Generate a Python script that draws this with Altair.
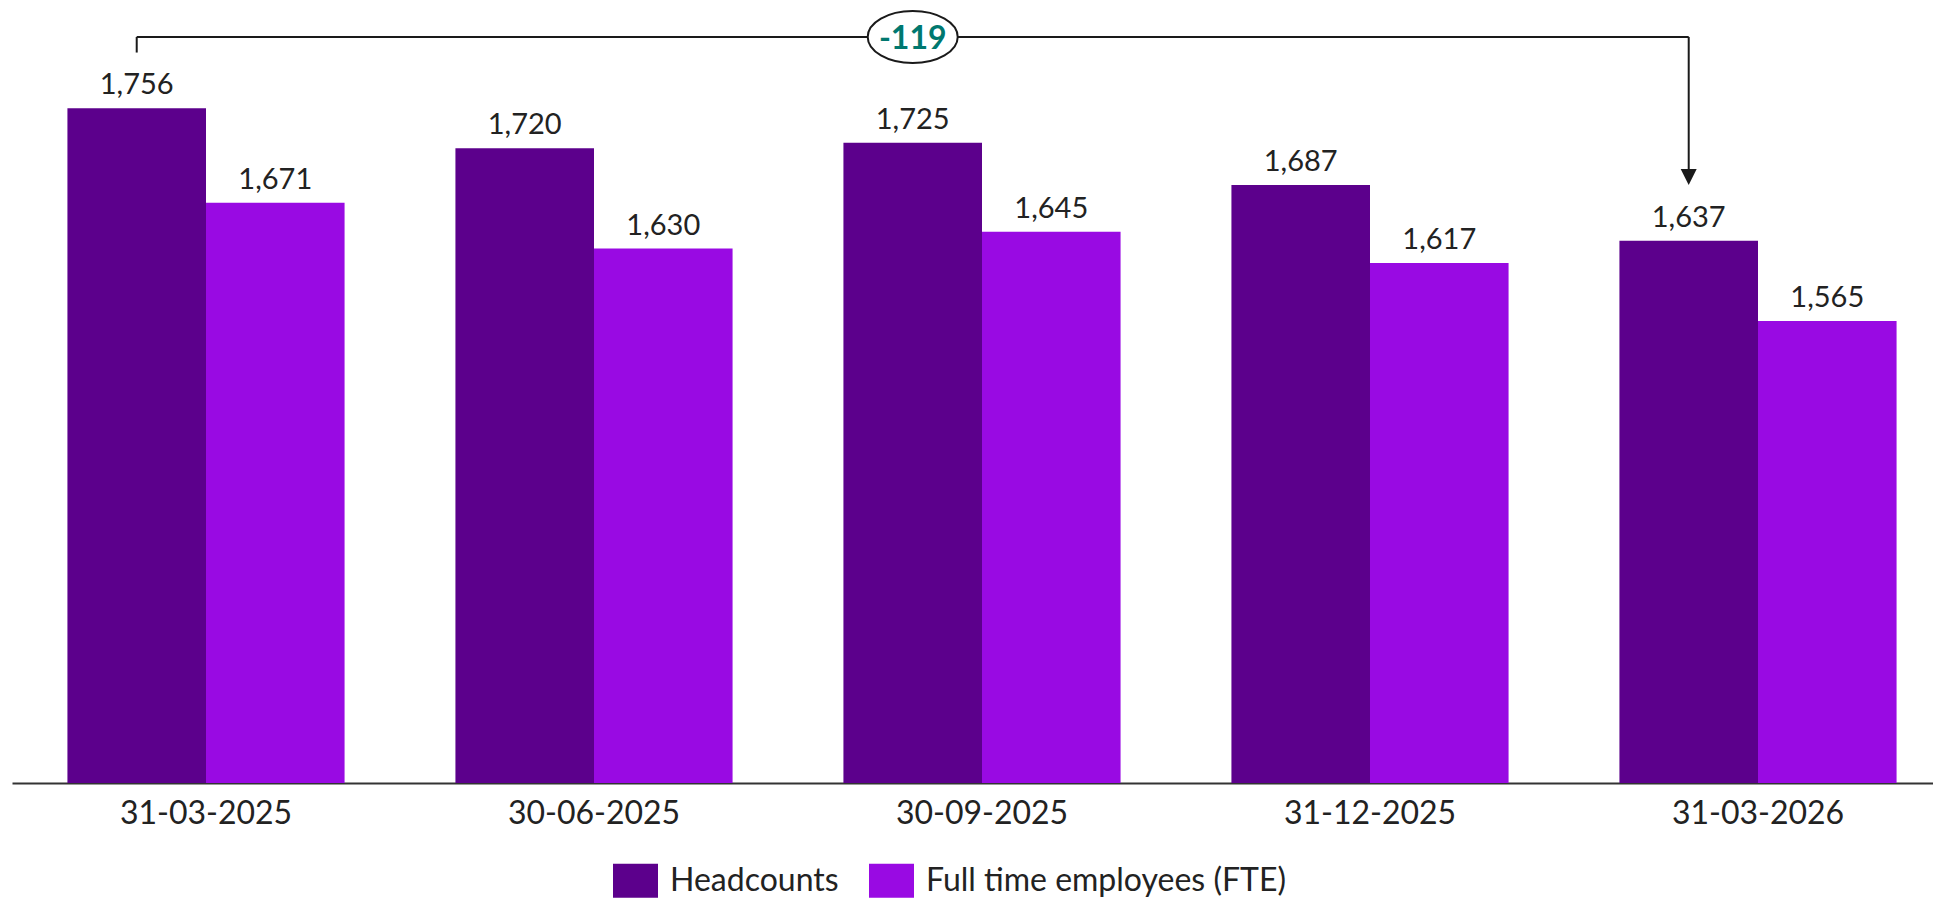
import altair as alt
import pandas as pd

# ---- data ----
dates = ["31-03-2025", "30-06-2025", "30-09-2025", "31-12-2025", "31-03-2026"]
headcounts = [1756, 1720, 1725, 1687, 1637]
fte = [1671, 1630, 1645, 1617, 1565]
series_names = ["Headcounts", "Full time employees (FTE)"]
series_colors = ["#5C008C", "#990AE3"]
change_label = "-119"

rows = []
for d, h, f in zip(dates, headcounts, fte):
    rows.append({"date": d, "series": series_names[0], "value": h})
    rows.append({"date": d, "series": series_names[1], "value": f})
df = pd.DataFrame(rows)

# ---- styling constants ----
FONT = "Lato"
TXT = "#222222"
Y_MIN, Y_MAX = 1150, 1846
BRACKET = 1820      # level of the bracket line (data units)
TICK_END = 1806     # bottom of the left bracket tick
ARROW_END = 1687    # arrow tip

x_enc = alt.X(
    "date:N", sort=dates,
    scale=alt.Scale(range=[0, 1940], paddingInner=0, paddingOuter=0),
    axis=alt.Axis(title=None, ticks=False, labelAngle=0, labelFont=FONT,
                  labelFontSize=32, labelColor=TXT, labelPadding=15,
                  domainColor="#333333", domainWidth=2),
)
xo_enc = alt.XOffset("series:N", sort=series_names,
                     scale=alt.Scale(domain=series_names, paddingInner=0, paddingOuter=0.4))
y_scale = alt.Scale(domain=[Y_MIN, Y_MAX], zero=False, nice=False)

base = alt.Chart(df)

bars = base.mark_bar().encode(
    x=x_enc, xOffset=xo_enc,
    y=alt.Y("value:Q", scale=y_scale, axis=None),
    y2=alt.datum(Y_MIN),
    color=alt.Color(
        "series:N", sort=series_names,
        scale=alt.Scale(domain=series_names, range=series_colors),
        legend=alt.Legend(
            title=None, orient="none", legendX=601, legendY=850,
            direction="horizontal", symbolType="M-1,-0.756H1V0.756H-1Z",
            symbolSize=2025, symbolStrokeWidth=0, symbolOpacity=1,
            labelFont=FONT, labelFontSize=32, labelColor=TXT, labelLimit=600,
            labelOffset=12, columnPadding=30, padding=0,
        ),
    ),
)

labels = base.mark_text(dy=-14, baseline="alphabetic", font=FONT,
                        fontSize=29, color=TXT).encode(
    x=x_enc, xOffset=xo_enc,
    y=alt.Y("value:Q", scale=y_scale, axis=None),
    text=alt.Text("value:Q", format=","),
)

ends = pd.DataFrame({"date": [dates[0], dates[-1]], "series": [series_names[0]] * 2})
first = pd.DataFrame({"date": [dates[0]], "series": [series_names[0]]})
last = pd.DataFrame({"date": [dates[-1]], "series": [series_names[0]]})
mid = pd.DataFrame({"date": [dates[2]], "series": [series_names[0]], "label": [change_label]})

hline = alt.Chart(ends).mark_line(color="#1a1a1a", strokeWidth=2).encode(
    x=x_enc, xOffset=xo_enc, y=alt.datum(BRACKET))
ltick = alt.Chart(first).mark_rule(color="#1a1a1a", strokeWidth=2).encode(
    x=x_enc, xOffset=xo_enc, y=alt.datum(BRACKET), y2=alt.datum(TICK_END))
rdrop = alt.Chart(last).mark_rule(color="#1a1a1a", strokeWidth=2).encode(
    x=x_enc, xOffset=xo_enc, y=alt.datum(BRACKET), y2=alt.datum(ARROW_END + 5))
arrow = alt.Chart(last).mark_point(shape="M-1,-1L1,-1L0,1Z", size=256, filled=True,
                                   color="#1a1a1a", opacity=1, yOffset=-8).encode(
    x=x_enc, xOffset=xo_enc, y=alt.datum(ARROW_END))
ellipse = alt.Chart(mid).mark_point(
    shape="M-1,0A1,0.578,0,1,0,1,0A1,0.578,0,1,0,-1,0Z", size=8100,
    filled=True, fill="white", stroke="#1a1a1a", strokeWidth=2, opacity=1).encode(
    x=x_enc, xOffset=xo_enc, y=alt.datum(BRACKET))
change = alt.Chart(mid).mark_text(font=FONT, fontSize=32, fontWeight="bold",
                                  color="#00786F", baseline="alphabetic", dy=12).encode(
    x=x_enc, xOffset=xo_enc, y=alt.datum(BRACKET), text="label:N")

chart = alt.layer(bars, labels, hline, ltick, rdrop, arrow, ellipse, change).properties(
    width=1921, height=775,
    padding={"left": 4, "top": 0, "right": 0, "bottom": 115},
    autosize=alt.AutoSizeParams(type="none"),
    background="white",
).configure_view(stroke=None)

chart.save("out.html", embed_options={"renderer": "svg", "actions": False})
